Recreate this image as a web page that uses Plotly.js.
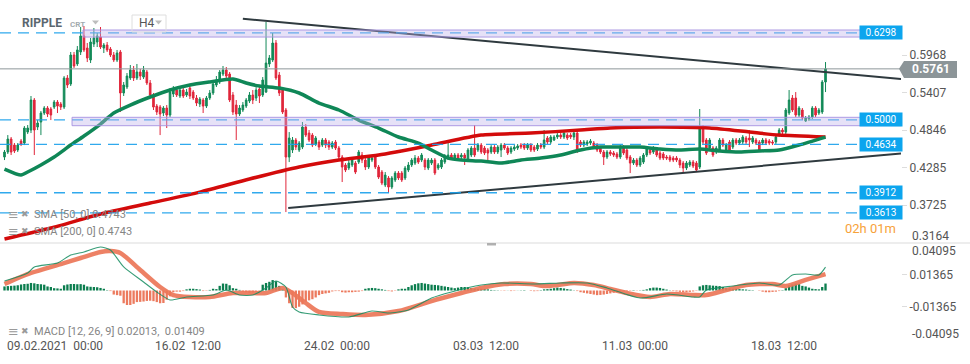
<!DOCTYPE html>
<html><head><meta charset="utf-8">
<script src="https://cdn.plot.ly/plotly-3.0.1.min.js"></script>
<style>html,body{margin:0;padding:0;background:#fff;}#chart{width:970px;height:364px;}</style>
</head><body><div id="chart"></div>
<script>
// ---- H4 candles, RIPPLE (XRP), from 09.02.2021 00:00 ----
const openP = [0.4445,0.4520,0.4714,0.4624,0.4550,0.4684,0.4654,0.4818,0.4848,0.5296,
0.4893,0.4968,0.5102,0.5177,0.5162,0.5191,0.5266,0.5236,0.5191,0.5625,
0.5535,0.5968,0.5834,0.6013,0.6252,0.6072,0.5893,0.6132,0.6162,0.6237,
0.6072,0.6117,0.6057,0.5968,0.5893,0.6013,0.5401,0.5490,0.5625,0.5744,
0.5625,0.5714,0.5639,0.5714,0.5550,0.5371,0.5206,0.5191,0.5102,0.5177,
0.5072,0.5386,0.5445,0.5356,0.5445,0.5371,0.5475,0.5415,0.5326,0.5236,
0.5296,0.5206,0.5326,0.5401,0.5520,0.5565,0.5684,0.5744,0.5684,0.5371,
0.5221,0.5087,0.5147,0.5206,0.5281,0.5371,0.5326,0.5460,0.5371,0.5415,
0.5834,0.5893,0.6147,0.5669,0.5445,0.5147,0.4445,0.4550,0.4699,0.4550,
0.4594,0.4893,0.4803,0.4773,0.4639,0.4669,0.4624,0.4699,0.4669,0.4594,
0.4669,0.4579,0.4445,0.4326,0.4281,0.4326,0.4355,0.4370,0.4475,0.4400,
0.4296,0.4400,0.4445,0.4296,0.4221,0.4027,0.4132,0.3997,0.4102,0.4206,
0.4206,0.4132,0.4251,0.4326,0.4355,0.4430,0.4400,0.4400,0.4281,0.4355,
0.4400,0.4281,0.4296,0.4370,0.4430,0.4475,0.4430,0.4475,0.4445,0.4475,
0.4400,0.4475,0.4579,0.4550,0.4624,0.4579,0.4550,0.4520,0.4594,0.4520,
0.4550,0.4624,0.4579,0.4520,0.4564,0.4579,0.4624,0.4624,0.4579,0.4624,
0.4594,0.4564,0.4624,0.4594,0.4729,0.4669,0.4699,0.4744,0.4773,0.4744,
0.4773,0.4773,0.4744,0.4803,0.4669,0.4624,0.4639,0.4654,0.4654,0.4624,
0.4579,0.4520,0.4445,0.4520,0.4505,0.4490,0.4445,0.4594,0.4550,0.4445,
0.4355,0.4400,0.4326,0.4370,0.4475,0.4550,0.4520,0.4550,0.4505,0.4490,
0.4445,0.4445,0.4430,0.4430,0.4400,0.4355,0.4281,0.4326,0.4370,0.4355,
0.4296,0.4893,0.4699,0.4579,0.4579,0.4520,0.4550,0.4699,0.4550,0.4669,
0.4594,0.4699,0.4654,0.4669,0.4729,0.4729,0.4669,0.4699,0.4669,0.4654,
0.4699,0.4684,0.4669,0.4669,0.4773,0.4848,0.4818,0.5102,0.5326,0.5326,
0.5072,0.5147,0.4982,0.5012,0.5042,0.5177,0.5102,0.5117,0.5565];

const closeP = [0.4520,0.4714,0.4520,0.4535,0.4624,0.4639,0.4878,0.4878,0.5296,0.4848,
0.4953,0.5102,0.5177,0.5087,0.5072,0.5266,0.5206,0.5191,0.5625,0.5520,
0.5968,0.5804,0.6043,0.6252,0.6043,0.5923,0.6162,0.6222,0.6252,0.6087,
0.6117,0.6043,0.5968,0.5893,0.5998,0.5401,0.5520,0.5654,0.5744,0.5625,
0.5714,0.5654,0.5744,0.5550,0.5371,0.5191,0.5117,0.5087,0.5177,0.5072,
0.5415,0.5445,0.5371,0.5445,0.5356,0.5415,0.5356,0.5326,0.5251,0.5311,
0.5206,0.5326,0.5401,0.5535,0.5595,0.5714,0.5744,0.5654,0.5296,0.5117,
0.5087,0.5177,0.5221,0.5296,0.5371,0.5296,0.5445,0.5356,0.5595,0.5848,
0.5923,0.6147,0.5625,0.5401,0.5117,0.4445,0.4729,0.4699,0.4594,0.4654,
0.4893,0.4773,0.4699,0.4624,0.4729,0.4594,0.4699,0.4624,0.4594,0.4654,
0.4579,0.4445,0.4296,0.4251,0.4355,0.4400,0.4221,0.4520,0.4400,0.4296,
0.4445,0.4430,0.4296,0.4146,0.4057,0.4176,0.3997,0.4132,0.4206,0.4132,
0.4102,0.4281,0.4326,0.4400,0.4430,0.4370,0.4475,0.4296,0.4400,0.4400,
0.4206,0.4326,0.4400,0.4460,0.4475,0.4430,0.4475,0.4430,0.4475,0.4430,
0.4550,0.4579,0.4475,0.4624,0.4520,0.4505,0.4505,0.4594,0.4520,0.4594,
0.4624,0.4579,0.4505,0.4579,0.4594,0.4609,0.4594,0.4579,0.4624,0.4550,
0.4550,0.4624,0.4594,0.4699,0.4669,0.4744,0.4744,0.4773,0.4744,0.4803,
0.4729,0.4744,0.4803,0.4550,0.4624,0.4669,0.4669,0.4684,0.4594,0.4550,
0.4520,0.4445,0.4520,0.4490,0.4475,0.4445,0.4594,0.4505,0.4430,0.4355,
0.4400,0.4326,0.4430,0.4475,0.4579,0.4505,0.4579,0.4475,0.4430,0.4430,
0.4430,0.4400,0.4400,0.4400,0.4326,0.4281,0.4355,0.4370,0.4311,0.4251,
0.4893,0.4669,0.4505,0.4699,0.4475,0.4579,0.4699,0.4624,0.4624,0.4550,
0.4699,0.4654,0.4699,0.4744,0.4669,0.4699,0.4729,0.4654,0.4550,0.4699,
0.4654,0.4654,0.4654,0.4744,0.4848,0.4818,0.5147,0.5296,0.5147,0.5072,
0.5177,0.5027,0.5027,0.5042,0.5177,0.5072,0.5147,0.5565,0.5761];

const highP = [0.4550,0.4773,0.4744,0.4654,0.4654,0.4714,0.4908,0.4923,0.5356,0.5326,
0.4997,0.5132,0.5206,0.5206,0.5191,0.5296,0.5296,0.5266,0.5654,0.5669,
0.6013,0.6013,0.6102,0.6386,0.6401,0.6147,0.6222,0.6371,0.6296,0.6386,
0.6147,0.6162,0.6087,0.6013,0.6043,0.6043,0.5565,0.5699,0.5819,0.5804,
0.5834,0.5759,0.5804,0.5744,0.5595,0.5401,0.5236,0.5221,0.5206,0.5221,
0.5475,0.5505,0.5490,0.5490,0.5475,0.5460,0.5520,0.5445,0.5371,0.5341,
0.5326,0.5356,0.5445,0.5595,0.5654,0.5744,0.5804,0.5789,0.5714,0.5415,
0.5296,0.5221,0.5266,0.5326,0.5415,0.5445,0.5505,0.5520,0.5639,0.6461,
0.5968,0.6296,0.6192,0.5714,0.5475,0.5177,0.4818,0.4744,0.4729,0.4684,
0.4968,0.4938,0.4848,0.4803,0.4759,0.4699,0.4729,0.4729,0.4699,0.4684,
0.4699,0.4609,0.4475,0.4355,0.4400,0.4430,0.4385,0.4550,0.4520,0.4430,
0.4475,0.4460,0.4475,0.4326,0.4251,0.4221,0.4161,0.4161,0.4236,0.4236,
0.4236,0.4311,0.4370,0.4430,0.4475,0.4460,0.4505,0.4430,0.4430,0.4430,
0.4430,0.4355,0.4430,0.4490,0.4654,0.4505,0.4505,0.4505,0.4505,0.4505,
0.4579,0.4609,0.4923,0.4654,0.4654,0.4609,0.4579,0.4624,0.4624,0.4624,
0.4654,0.4654,0.4609,0.4609,0.4624,0.4639,0.4654,0.4654,0.4654,0.4654,
0.4624,0.4654,0.4654,0.4848,0.4759,0.4773,0.4773,0.4803,0.4803,0.4833,
0.4803,0.4803,0.4833,0.4848,0.4699,0.4699,0.4699,0.4714,0.4684,0.4654,
0.4609,0.4550,0.4550,0.4550,0.4535,0.4520,0.4624,0.4624,0.4579,0.4475,
0.4430,0.4430,0.4460,0.4505,0.4609,0.4579,0.4609,0.4579,0.4535,0.4520,
0.4475,0.4475,0.4460,0.4460,0.4430,0.4385,0.4385,0.4400,0.4400,0.4385,
0.5162,0.4923,0.4729,0.4729,0.4609,0.4609,0.4729,0.4729,0.4654,0.4699,
0.4729,0.4729,0.4729,0.4773,0.4759,0.4848,0.4759,0.4729,0.4699,0.4729,
0.4729,0.4714,0.4699,0.4773,0.4878,0.4878,0.5177,0.5445,0.5371,0.5415,
0.5206,0.5177,0.5057,0.5072,0.5206,0.5206,0.5177,0.5595,0.5863];

const lowP = [0.4400,0.4490,0.4475,0.4505,0.4520,0.4609,0.4624,0.4788,0.4803,0.4475,
0.4848,0.4773,0.5072,0.5042,0.4997,0.5162,0.5102,0.5147,0.5162,0.5475,
0.5505,0.5774,0.5804,0.5968,0.6013,0.5863,0.5848,0.6087,0.6087,0.6057,
0.5998,0.6013,0.5938,0.5863,0.5863,0.5117,0.5356,0.5460,0.5595,0.5580,
0.5595,0.5595,0.5610,0.5520,0.5341,0.5147,0.5072,0.4773,0.5057,0.4878,
0.5042,0.5341,0.5341,0.5326,0.5326,0.5341,0.5311,0.5296,0.5206,0.5191,
0.5102,0.5177,0.5296,0.5371,0.5490,0.5535,0.5654,0.5595,0.5266,0.5072,
0.4699,0.5057,0.5117,0.5177,0.5251,0.5236,0.5281,0.5251,0.5341,0.5401,
0.5789,0.5863,0.5595,0.5356,0.5087,0.3624,0.4370,0.4505,0.4550,0.4520,
0.4564,0.4744,0.4669,0.4594,0.4609,0.4550,0.4594,0.4579,0.4550,0.4564,
0.4550,0.4415,0.4072,0.4221,0.4251,0.4296,0.4191,0.4341,0.4355,0.4251,
0.4266,0.4370,0.4266,0.4117,0.4027,0.3997,0.3908,0.3967,0.4072,0.4102,
0.4072,0.4102,0.4221,0.4296,0.4326,0.4341,0.4370,0.4251,0.4251,0.4326,
0.4176,0.4251,0.4266,0.4341,0.4400,0.4400,0.4400,0.4400,0.4415,0.4326,
0.4370,0.4445,0.4445,0.4520,0.4490,0.4475,0.4400,0.4490,0.4490,0.4490,
0.4445,0.4550,0.4475,0.4490,0.4535,0.4550,0.4564,0.4550,0.4550,0.4520,
0.4520,0.4535,0.4564,0.4564,0.4639,0.4639,0.4684,0.4714,0.4714,0.4714,
0.4699,0.4714,0.4699,0.4505,0.4594,0.4594,0.4609,0.4624,0.4564,0.4520,
0.4490,0.4326,0.4415,0.4460,0.4445,0.4415,0.4415,0.4475,0.4400,0.4206,
0.4326,0.4296,0.4296,0.4341,0.4445,0.4475,0.4490,0.4445,0.4400,0.4400,
0.4400,0.4370,0.4370,0.4370,0.4281,0.4221,0.4251,0.4296,0.4281,0.4221,
0.4266,0.4639,0.4475,0.4550,0.4445,0.4490,0.4520,0.4594,0.4520,0.4520,
0.4564,0.4624,0.4624,0.4639,0.4639,0.4594,0.4639,0.4624,0.4520,0.4624,
0.4624,0.4624,0.4624,0.4639,0.4744,0.4788,0.4788,0.5072,0.5117,0.5042,
0.5042,0.4997,0.4968,0.4982,0.5012,0.5042,0.5072,0.5087,0.5415];

// Moving averages (read at sample candles)
const sma50Idx = [0,5,7,11,15,20,24,29,33,38,44,50,56,62,69,73,77,83,89,95,101,107,113,119,125,129,134,138,144,150,156,162,168,174,180,186,192,198,204,210,216,222,228,234,240,248];
const sma50Val = [0.4266,0.4176,0.4221,0.4326,0.4445,0.4624,0.4759,0.4938,0.5102,0.5221,0.5341,0.5445,0.5520,0.5565,0.5610,0.5550,0.5505,0.5475,0.5401,0.5251,0.5147,0.4997,0.4878,0.4744,0.4654,0.4550,0.4430,0.4400,0.4385,0.4355,0.4400,0.4430,0.4475,0.4550,0.4594,0.4594,0.4594,0.4564,0.4550,0.4564,0.4535,0.4520,0.4535,0.4550,0.4624,0.4743];
const sma200Idx = [0,14,29,44,59,74,89,101,113,129,144,159,174,183,198,213,225,234,248];
const sma200Val = [0.3221,0.3385,0.3594,0.3758,0.3922,0.4117,0.4296,0.4400,0.4475,0.4624,0.4773,0.4803,0.4848,0.4878,0.4893,0.4878,0.4818,0.4773,0.4743];

// MACD (12, 26, 9)
const macdHist = [0.0035,0.0038,0.0040,0.0042,0.0045,0.0052,0.0056,0.0058,0.0065,0.0062,
0.0056,0.0054,0.0050,0.0035,0.0030,0.0020,0.0018,0.0015,0.0045,0.0052,
0.0056,0.0056,0.0054,0.0055,0.0050,0.0035,0.0032,0.0030,0.0028,0.0022,
0.0015,0.0003,-0.0005,-0.0035,-0.0040,-0.0045,-0.0110,-0.0125,-0.0125,-0.0115,
-0.0100,-0.0098,-0.0095,-0.0090,-0.0088,-0.0092,-0.0100,-0.0110,-0.0108,-0.0080,
-0.0050,-0.0015,-0.0010,-0.0010,-0.0005,0.0010,0.0015,0.0015,0.0012,0.0008,
-0.0005,-0.0003,0.0005,0.0015,0.0012,0.0040,0.0060,0.0058,0.0045,0.0020,
0.0015,0.0005,-0.0010,-0.0015,-0.0020,-0.0018,-0.0012,-0.0005,0.0050,0.0065,
0.0075,0.0090,0.0080,0.0040,0.0010,-0.0060,-0.0110,-0.0150,-0.0152,-0.0140,
-0.0120,-0.0095,-0.0085,-0.0075,-0.0060,-0.0040,-0.0030,-0.0025,-0.0020,-0.0008,
-0.0005,-0.0005,-0.0015,-0.0018,-0.0015,-0.0015,-0.0012,-0.0010,-0.0005,0.0015,
0.0020,0.0022,0.0020,0.0015,0.0010,0.0005,-0.0005,-0.0008,-0.0003,0.0010,
0.0015,0.0015,0.0030,0.0045,0.0055,0.0062,0.0065,0.0060,0.0055,0.0050,
0.0048,0.0045,0.0040,0.0035,0.0030,0.0025,0.0020,0.0025,0.0030,0.0030,
0.0028,0.0022,0.0018,0.0015,0.0015,0.0012,0.0010,0.0005,0.0003,0.0002,
-0.0002,-0.0003,0.0001,-0.0005,-0.0003,0.0001,0.0002,0.0003,0.0000,-0.0004,
-0.0006,-0.0005,0.0003,0.0010,0.0012,0.0015,0.0020,0.0025,0.0022,0.0018,
0.0012,0.0008,0.0002,-0.0005,-0.0015,-0.0020,-0.0025,-0.0030,-0.0035,-0.0040,
-0.0038,-0.0035,-0.0030,-0.0025,-0.0020,-0.0015,-0.0010,-0.0008,-0.0005,-0.0003,
0.0003,-0.0002,0.0002,0.0005,0.0010,0.0020,0.0025,0.0025,0.0022,0.0015,
0.0008,0.0002,-0.0005,-0.0008,-0.0012,-0.0015,-0.0015,-0.0012,-0.0008,-0.0003,
0.0035,0.0045,0.0048,0.0045,0.0042,0.0040,0.0038,0.0030,0.0022,0.0018,
0.0015,0.0015,0.0012,0.0010,0.0008,0.0005,0.0003,0.0000,-0.0003,-0.0010,
-0.0015,-0.0015,-0.0012,-0.0010,-0.0005,0.0003,0.0020,0.0045,0.0052,0.0060,
0.0055,0.0040,0.0035,0.0025,0.0015,0.0012,0.0010,0.0030,0.0060];
const macdIdx = [0,7,9,16,20,24,29,32,36,42,46,50,55,63,67,71,75,79,82,85,87,89,95,104,111,116,122,129,135,144,150,160,168,176,182,192,200,208,210,212,220,228,234,238,242,246,248];
const macdVal = [0.0082,0.0151,0.0203,0.0237,0.0306,0.0332,0.0375,0.0349,0.0203,0.0073,-0.0013,-0.0082,-0.0056,-0.0039,0.0004,-0.0039,-0.0039,0.0022,0.0082,0.0030,-0.0142,-0.0185,-0.0211,-0.0228,-0.0177,-0.0194,-0.0168,-0.0065,-0.0013,0.0047,0.0065,0.0056,0.0065,0.0065,0.0022,-0.0065,-0.0030,-0.0056,-0.0056,0.0004,0.0039,0.0065,0.0047,0.0134,0.0142,0.0134,0.0201];
const signalIdx = [0,8,17,23,29,32,35,41,47,51,56,62,69,75,79,84,87,91,95,102,109,119,129,138,144,151,159,163,167,172,178,183,188,195,201,208,212,218,224,232,236,242,248];
const signalVal = [0.0056,0.0151,0.0228,0.0280,0.0332,0.0340,0.0323,0.0177,0.0030,-0.0039,-0.0056,-0.0056,-0.0022,-0.0022,-0.0022,0.0022,-0.0022,-0.0108,-0.0185,-0.0203,-0.0211,-0.0177,-0.0091,-0.0022,0.0022,0.0056,0.0056,0.0039,0.0047,0.0065,0.0047,0.0013,-0.0022,-0.0056,-0.0030,-0.0039,-0.0039,0.0004,0.0047,0.0056,0.0039,0.0091,0.0141];

// Drawings / levels
const levelValues = [0.6298, 0.5000, 0.4634, 0.3912, 0.3613];
const levelLabels = ['0.6298', '0.5000', '0.4634', '0.3912', '0.3613'];
const bandStartIdx = [23.7, 20.4];
const bandLow = [0.6236, 0.4913];
const bandHigh = [0.6341, 0.5038];
const upperTrendIdx = [72, 270.8];
const upperTrendVal = [0.6510, 0.5610];
const lowerTrendIdx = [85.7, 270.8];
const lowerTrendVal = [0.3684, 0.4499];
const lastPrice = 0.5761;

// Axis labels
const priceTicks = [0.3725, 0.4285, 0.4846, 0.5407, 0.5968];
const priceTickText = ['0.3725', '0.4285', '0.4846', '0.5407', '0.5968'];
const macdTicks = [0.01365, -0.01365];
const macdTickText = ['0.01365', '-0.01365'];
const dateTickIdx = [0, 45, 90, 135, 180, 225];
const dateTickText = ['09.02.2021  00:00', '16.02  12:00', '24.02  00:00', '03.03  12:00', '11.03  00:00', '18.03  12:00'];

const xIdx = openP.map((_, i) => i);
const GREEN = '#138a58', RED = '#e0263b';
const FONT = 'Roboto, "Open Sans", sans-serif';

const traces = [
  {type: 'candlestick', x: xIdx, open: openP, high: highP, low: lowP, close: closeP,
   xaxis: 'x', yaxis: 'y', whiskerwidth: 0, hoverinfo: 'skip',
   increasing: {line: {color: GREEN, width: 1}, fillcolor: GREEN},
   decreasing: {line: {color: RED, width: 1}, fillcolor: RED}},
  {type: 'scatter', mode: 'lines', x: sma200Idx, y: sma200Val, xaxis: 'x', yaxis: 'y',
   line: {color: '#d30b0b', width: 3.5, shape: 'spline', smoothing: 0.6}, hoverinfo: 'skip'},
  {type: 'scatter', mode: 'lines', x: sma50Idx, y: sma50Val, xaxis: 'x', yaxis: 'y',
   line: {color: '#0f8757', width: 3.5, shape: 'spline', smoothing: 0.6}, hoverinfo: 'skip'},
  {type: 'scatter', mode: 'lines', x: upperTrendIdx, y: upperTrendVal, xaxis: 'x', yaxis: 'y',
   line: {color: '#2f3a3f', width: 2}, hoverinfo: 'skip'},
  {type: 'scatter', mode: 'lines', x: lowerTrendIdx, y: lowerTrendVal, xaxis: 'x', yaxis: 'y',
   line: {color: '#2f3a3f', width: 2}, hoverinfo: 'skip'},
  {type: 'bar', x: xIdx, y: macdHist, xaxis: 'x', yaxis: 'y2', width: 0.7,
   marker: {color: macdHist.map(v => v >= 0 ? '#0b7d4e' : '#ec7a5e'), line: {width: 0}}, hoverinfo: 'skip'},
  {type: 'scatter', mode: 'lines', x: signalIdx, y: signalVal, xaxis: 'x', yaxis: 'y2',
   line: {color: 'rgba(236,118,88,0.92)', width: 4.5, shape: 'spline', smoothing: 0.7}, hoverinfo: 'skip'},
  {type: 'scatter', mode: 'lines', x: macdIdx, y: macdVal, xaxis: 'x', yaxis: 'y2',
   line: {color: 'rgba(20,140,95,0.85)', width: 1.1, shape: 'spline', smoothing: 0.6}, hoverinfo: 'skip'}
];

const W = 901, H = 338; // plot-area size in px
const px = v => v / W;
const py = v => (H - v) / H;

const shapes = [];
levelValues.forEach(v => shapes.push({type: 'line', xref: 'paper', yref: 'y', x0: 0, x1: 1, y0: v, y1: v,
  line: {color: 'rgba(25,160,235,0.9)', width: 1.3, dash: '11px,7px'}, layer: 'above'}));
bandStartIdx.forEach((s, k) => shapes.push({type: 'rect', xref: 'x', yref: 'y', x0: s, x1: 270.8,
  y0: bandLow[k], y1: bandHigh[k], fillcolor: 'rgba(190,176,235,0.38)',
  line: {color: 'rgba(165,145,225,0.9)', width: 1}, layer: 'above'}));
shapes.push({type: 'line', xref: 'paper', yref: 'y', x0: 0, x1: 1, y0: lastPrice, y1: lastPrice,
  line: {color: '#8d9699', width: 1}, layer: 'above'});
// price badge
shapes.push({type: 'path', xref: 'paper', yref: 'y',
  path: `M ${px(899)} ${lastPrice} L ${px(904)} 0.5878 L ${px(957)} 0.5878 L ${px(957)} 0.5624 L ${px(904)} 0.5624 Z`,
  fillcolor: '#8c9598', line: {width: 0}, layer: 'above'});
// panel divider and handle
shapes.push({type: 'line', xref: 'paper', yref: 'paper', x0: 0, x1: 970 / W, y0: py(243), y1: py(243),
  line: {color: '#dcdcdc', width: 1.2}});
shapes.push({type: 'rect', xref: 'paper', yref: 'paper', x0: px(487), x1: px(496), y0: py(245.5), y1: py(243),
  fillcolor: '#b0b0b0', line: {width: 0}});
// header box and dropdown arrows
shapes.push({type: 'rect', xref: 'paper', yref: 'paper', x0: px(132), x1: px(166), y0: py(32), y1: py(15),
  fillcolor: 'rgba(0,0,0,0)', line: {color: '#dedede', width: 1}});
[[92, 99], [155, 162]].forEach(([a, b]) => shapes.push({type: 'path', xref: 'paper', yref: 'paper',
  path: `M ${px(a)} ${py(20.5)} L ${px(b)} ${py(20.5)} L ${px((a + b) / 2)} ${py(24.5)} Z`,
  fillcolor: '#bdbdbd', line: {width: 0}}));

const annotations = [];
const ann = (o) => annotations.push(Object.assign({showarrow: false, xanchor: 'left', yanchor: 'middle'}, o));
ann({xref: 'paper', yref: 'paper', x: px(20), y: py(23), text: '<b>RIPPLE</b>', font: {family: FONT, size: 12, color: '#5b666e'}});
ann({xref: 'paper', yref: 'paper', x: px(68), y: py(24), text: '<b>CRT</b>', font: {family: FONT, size: 8, color: '#a3abb0'}});
ann({xref: 'paper', yref: 'paper', x: px(137), y: py(23.5), text: 'H4', font: {family: FONT, size: 12, color: '#555'}});
// timer text
ann({xref: 'paper', yref: 'paper', x: px(843), y: py(228), text: '02h 01m', font: {family: FONT, size: 13, color: '#f7a23a'}});
// level labels
levelValues.forEach((v, k) => ann({xref: 'paper', yref: 'y', x: px(859), y: v, text: levelLabels[k],
  bgcolor: '#0ca5ee', width: 42, height: 13, borderpad: 0, align: 'center',
  font: {family: FONT, size: 10, color: '#ffffff'}}));
// last price
ann({xref: 'paper', yref: 'y', x: px(910.5), y: lastPrice, text: '<b>' + lastPrice.toFixed(4) + '</b>',
  font: {family: FONT, size: 12, color: '#ffffff'}});
// edge axis labels
ann({xref: 'paper', yref: 'paper', x: px(910.5), y: py(236), text: '0.3164', font: {family: FONT, size: 12, color: '#555'}});
ann({xref: 'paper', yref: 'paper', x: px(910.5), y: py(251), text: '0.04095', font: {family: FONT, size: 12, color: '#555'}});
ann({xref: 'paper', yref: 'paper', x: px(910.5), y: py(334), text: '-0.04095', font: {family: FONT, size: 12, color: '#555'}});
// legends
const legendRows = [['SMA [50, 0] 0.4743', 214], ['SMA [200, 0] 0.4743', 231], ['MACD [12, 26, 9] 0.02013,  0.01409', 331]];
legendRows.forEach(([t, y]) => {
  ann({xref: 'paper', yref: 'paper', x: px(6), y: py(y), text: '≡', font: {family: 'DejaVu Sans', size: 13, color: '#9a9a9a'}});
  ann({xref: 'paper', yref: 'paper', x: px(19), y: py(y), text: '✖', font: {family: 'DejaVu Sans', size: 9, color: '#9a9a9a'}});
  ann({xref: 'paper', yref: 'paper', x: px(32), y: py(y), text: t, font: {family: FONT, size: 11, color: '#858585'}});
});
// date labels
dateTickIdx.forEach((d, k) => ann({xref: 'x', yref: 'paper', x: d, y: py(346), text: dateTickText[k],
  font: {family: FONT, size: 12, color: '#555'}}));

const layout = {
  width: 970, height: 364,
  margin: {l: 0, r: 69, t: 0, b: 26, pad: 0},
  paper_bgcolor: '#ffffff', plot_bgcolor: '#ffffff',
  showlegend: false, font: {family: FONT},
  bargap: 0.3,
  xaxis: {range: [-1.36, 270.8], anchor: 'y2', showgrid: false, zeroline: false, showline: false,
          showticklabels: false, ticks: '', rangeslider: {visible: false}, fixedrange: true},
  yaxis: {domain: [py(243), 1], range: [0.3162, 0.6789], side: 'right', anchor: 'x',
          tickvals: priceTicks, ticktext: priceTickText, ticks: 'outside', ticklen: 5, tickcolor: '#dddddd',
          showgrid: false, zeroline: false, showline: false, tickfont: {family: FONT, size: 12, color: '#555'}},
  yaxis2: {domain: [0, py(243)], range: [-0.04095, 0.04095], side: 'right', anchor: 'x',
          tickvals: macdTicks, ticktext: macdTickText, ticks: 'outside', ticklen: 5, tickcolor: '#dddddd',
          showgrid: false, zeroline: false, showline: false, tickfont: {family: FONT, size: 12, color: '#555'}},
  shapes: shapes,
  annotations: annotations
};

Plotly.newPlot('chart', traces, layout, {displayModeBar: false, staticPlot: true});
</script>
</body></html>
